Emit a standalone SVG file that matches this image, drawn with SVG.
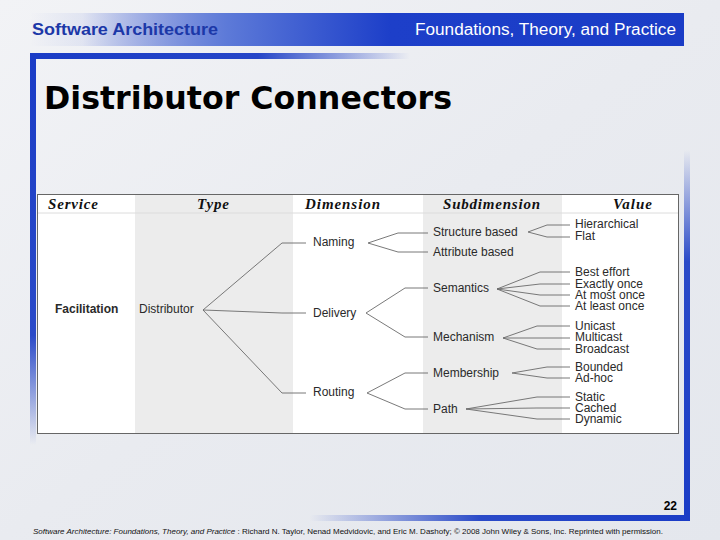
<svg xmlns="http://www.w3.org/2000/svg" width="720" height="540" viewBox="0 0 720 540">
<defs>
<linearGradient id="bg" x1="0" y1="0" x2="1" y2="1">
<stop offset="0" stop-color="#f2f3f6"/><stop offset="0.5" stop-color="#e9ebf0"/><stop offset="1" stop-color="#e4e7ed"/>
</linearGradient>
<linearGradient id="hdr" x1="30" y1="0" x2="684" y2="0" gradientUnits="userSpaceOnUse">
<stop offset="0" stop-color="#1d3fc9" stop-opacity="0"/><stop offset="0.08" stop-color="#2a4acb" stop-opacity="0.08"/><stop offset="0.3" stop-color="#5d7ad8"/><stop offset="0.55" stop-color="#1d3fc9"/><stop offset="1" stop-color="#1a3cc6"/>
</linearGradient>
<linearGradient id="topbar" x1="30" y1="0" x2="410" y2="0" gradientUnits="userSpaceOnUse">
<stop offset="0" stop-color="#1a3cc6"/><stop offset="0.6" stop-color="#2646c8"/><stop offset="1" stop-color="#2646c8" stop-opacity="0"/>
</linearGradient>
<linearGradient id="leftbar" x1="0" y1="53" x2="0" y2="445" gradientUnits="userSpaceOnUse">
<stop offset="0" stop-color="#1a3cc6"/><stop offset="0.72" stop-color="#2a4ac8"/><stop offset="1" stop-color="#2a4ac8" stop-opacity="0"/>
</linearGradient>
<linearGradient id="rightbar" x1="0" y1="150" x2="0" y2="521" gradientUnits="userSpaceOnUse">
<stop offset="0" stop-color="#2a4ac8" stop-opacity="0"/><stop offset="0.3" stop-color="#2a4ac8"/><stop offset="1" stop-color="#1a3cc6"/>
</linearGradient>
<linearGradient id="botbar" x1="310" y1="0" x2="690" y2="0" gradientUnits="userSpaceOnUse">
<stop offset="0" stop-color="#2a4ac8" stop-opacity="0"/><stop offset="0.45" stop-color="#2a4ac8"/><stop offset="1" stop-color="#1a3cc6"/>
</linearGradient>
<style>
.lbl{font-family:"Liberation Sans",Arial,sans-serif;font-size:12px;fill:#2a2a2a}
.hd{font-family:"Liberation Serif","Times New Roman",serif;font-size:15px;font-weight:bold;font-style:italic;fill:#111}
.cn{fill:none;stroke:#6a6a6a;stroke-width:0.9}
</style>
</defs>
<rect width="720" height="540" fill="url(#bg)"/>
<g id="frame">
<rect x="30" y="13" width="654" height="33" fill="url(#hdr)"/>
<rect x="30" y="53" width="380" height="6" fill="url(#topbar)"/>
<rect x="30" y="53" width="6" height="392" fill="url(#leftbar)"/>
<rect x="684" y="150" width="6" height="371" fill="url(#rightbar)"/>
<rect x="310" y="515" width="380" height="6" fill="url(#botbar)"/>
</g>
<g id="header">
<text x="32" y="35" font-family="'Liberation Sans',Arial,sans-serif" font-size="16" font-weight="bold" fill="#1c38a8" textLength="186" lengthAdjust="spacingAndGlyphs">Software Architecture</text>
<text x="415" y="35" font-family="'Liberation Sans',Arial,sans-serif" font-size="16" fill="#ffffff" textLength="261" lengthAdjust="spacingAndGlyphs">Foundations, Theory, and Practice</text>
</g>
<g id="title">
<text x="44" y="109" font-family="'DejaVu Sans',Verdana,sans-serif" font-size="32" font-weight="bold" fill="#000" textLength="408" lengthAdjust="spacingAndGlyphs">Distributor Connectors</text>
</g>
<g id="table">
<rect x="37.5" y="194.5" width="641" height="239" fill="#ffffff"/>
<rect x="135" y="195" width="158" height="238" fill="#ececec"/>
<rect x="423" y="195" width="139" height="238" fill="#ececec"/>
<line x1="38" y1="213" x2="678" y2="213" stroke="#dcdcdc" stroke-width="1"/>
<rect x="37.5" y="194.5" width="641" height="239" fill="none" stroke="#666" stroke-width="1"/>
<text class="hd" x="48" y="209" textLength="50" lengthAdjust="spacing">Service</text>
<text class="hd" x="197" y="209" textLength="32" lengthAdjust="spacing">Type</text>
<text class="hd" x="305" y="209" textLength="75" lengthAdjust="spacing">Dimension</text>
<text class="hd" x="443" y="209" textLength="97" lengthAdjust="spacing">Subdimension</text>
<text class="hd" x="613" y="209" textLength="39" lengthAdjust="spacing">Value</text>
</g>
<g id="connectors">
<polyline class="cn" points="203,310 282,243 306,243"/>
<polyline class="cn" points="203,310 282,313 306,313"/>
<polyline class="cn" points="203,310 282,393 306,393"/>
<polyline class="cn" points="368,243 398,233 428,233"/>
<polyline class="cn" points="368,243 398,252 428,252"/>
<polyline class="cn" points="528,232 547,225 570,225"/>
<polyline class="cn" points="528,232 547,237 570,237"/>
<polyline class="cn" points="366,313 405,288 428,288"/>
<polyline class="cn" points="366,313 405,337 428,337"/>
<polyline class="cn" points="497,289 540,272 570,272"/>
<polyline class="cn" points="497,289 540,284 570,284"/>
<polyline class="cn" points="497,289 540,295 570,295"/>
<polyline class="cn" points="497,289 540,306 570,306"/>
<polyline class="cn" points="503,338 537,326 570,326"/>
<polyline class="cn" points="503,338 537,338 570,338"/>
<polyline class="cn" points="503,338 537,349 570,349"/>
<polyline class="cn" points="367,393 405,373 428,373"/>
<polyline class="cn" points="367,393 405,409 428,409"/>
<polyline class="cn" points="512,373 547,367 570,367"/>
<polyline class="cn" points="512,373 547,378 570,378"/>
<polyline class="cn" points="466,409 537,397 570,397"/>
<polyline class="cn" points="466,409 537,408 570,408"/>
<polyline class="cn" points="466,409 537,419 570,419"/>
</g>
<g id="n-facilitation"><text class="lbl" x="55" y="313" font-weight="bold" fill="#111">Facilitation</text></g>
<g id="n-distributor"><text class="lbl" x="139" y="313">Distributor</text></g>
<g id="n-naming"><text class="lbl" x="313" y="246">Naming</text></g>
<g id="n-delivery"><text class="lbl" x="313" y="317">Delivery</text></g>
<g id="n-routing"><text class="lbl" x="313" y="396">Routing</text></g>
<g id="n-structure"><text class="lbl" x="433" y="236">Structure based</text></g>
<g id="n-attribute"><text class="lbl" x="433" y="256">Attribute based</text></g>
<g id="n-semantics"><text class="lbl" x="433" y="292">Semantics</text></g>
<g id="n-mechanism"><text class="lbl" x="433" y="341">Mechanism</text></g>
<g id="n-membership"><text class="lbl" x="433" y="377">Membership</text></g>
<g id="n-path"><text class="lbl" x="433" y="413">Path</text></g>
<g id="n-hierarchical"><text class="lbl" x="575" y="228">Hierarchical</text></g>
<g id="n-flat"><text class="lbl" x="575" y="240">Flat</text></g>
<g id="n-besteffort"><text class="lbl" x="575" y="276">Best effort</text></g>
<g id="n-exactlyonce"><text class="lbl" x="575" y="288">Exactly once</text></g>
<g id="n-atmostonce"><text class="lbl" x="575" y="299">At most once</text></g>
<g id="n-atleastonce"><text class="lbl" x="575" y="310">At least once</text></g>
<g id="n-unicast"><text class="lbl" x="575" y="330">Unicast</text></g>
<g id="n-multicast"><text class="lbl" x="575" y="341">Multicast</text></g>
<g id="n-broadcast"><text class="lbl" x="575" y="353">Broadcast</text></g>
<g id="n-bounded"><text class="lbl" x="575" y="371">Bounded</text></g>
<g id="n-adhoc"><text class="lbl" x="575" y="382">Ad-hoc</text></g>
<g id="n-static"><text class="lbl" x="575" y="401">Static</text></g>
<g id="n-cached"><text class="lbl" x="575" y="412">Cached</text></g>
<g id="n-dynamic"><text class="lbl" x="575" y="423">Dynamic</text></g>
<g id="pagenum"><text x="677" y="510" text-anchor="end" font-family="'Liberation Sans',Arial,sans-serif" font-size="12" font-weight="bold" fill="#000">22</text></g>
<g id="footer">
<text x="33" y="534" font-family="'Liberation Sans',Arial,sans-serif" font-size="7.5" fill="#111" textLength="630" lengthAdjust="spacingAndGlyphs"><tspan font-style="italic">Software Architecture: Foundations, Theory, and Practice</tspan> : Richard N. Taylor, Nenad Medvidovic, and Eric M. Dashofy; © 2008 John Wiley &amp; Sons, Inc. Reprinted with permission.</text>
</g>
</svg>
